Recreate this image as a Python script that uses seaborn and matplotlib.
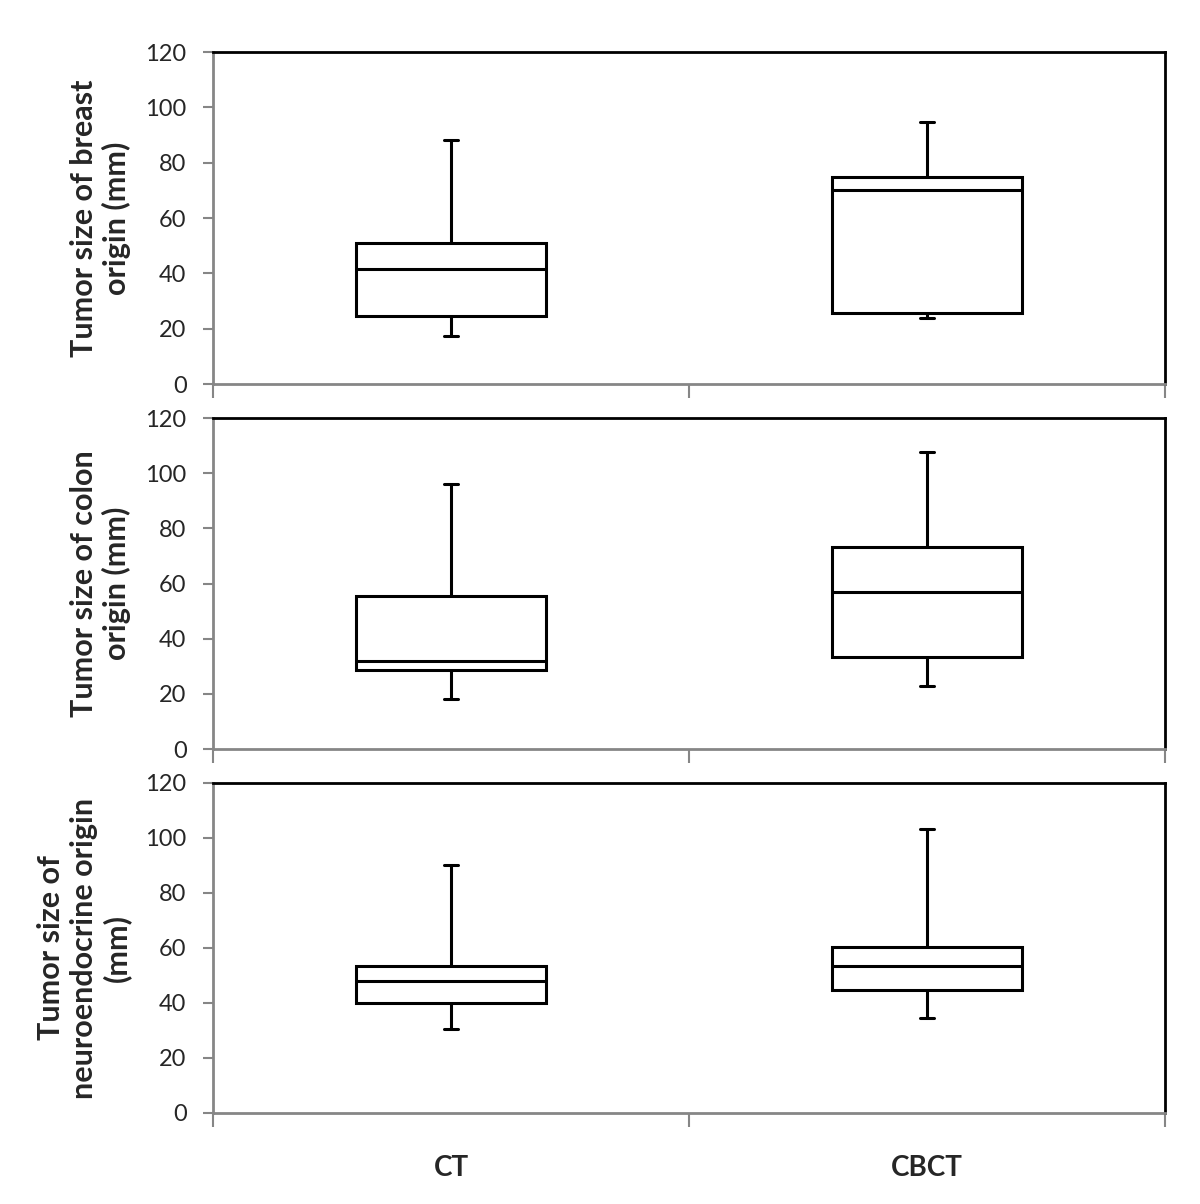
import numpy as np
import pandas as pd
import matplotlib.pyplot as plt
import seaborn as sns

# five-number summaries: min, Q1, median, Q3, max
groups = ["CT", "CBCT"]
breast_ct = [17.3, 24.6, 41.5, 51.0, 88.2]
breast_cbct = [23.9, 25.7, 70.1, 74.8, 94.7]
colon_ct = [18.1, 28.6, 31.9, 55.5, 96.1]
colon_cbct = [22.8, 33.4, 56.9, 73.2, 107.7]
neuro_ct = [30.5, 40.0, 48.0, 53.5, 90.2]
neuro_cbct = [34.5, 44.7, 53.5, 60.4, 103.3]

ylabels = [
    "Tumor size of breast\norigin (mm)",
    "Tumor size of colon\norigin (mm)",
    "Tumor size of\nneuroendocrine origin\n(mm)",
]
yticks = [0, 20, 40, 60, 80, 100, 120]

panels = [(breast_ct, breast_cbct), (colon_ct, colon_cbct), (neuro_ct, neuro_cbct)]

sns.set_style("white")
plt.rcParams["font.family"] = ["Lato", "DejaVu Sans"]

fig = plt.figure(figsize=(12, 12.04), dpi=100)
boxes = [
    [0.1775, 0.681, 0.7933, 0.2757],
    [0.1775, 0.3779, 0.7933, 0.2749],
    [0.1775, 0.0756, 0.7933, 0.2741],
]
gray = "#868686"

for i, ((ct, cbct), label) in enumerate(zip(panels, ylabels)):
    ax = fig.add_axes(boxes[i])
    # with five points, linear quartiles land exactly on the summary values
    df = pd.DataFrame({
        "group": [groups[0]] * len(ct) + [groups[1]] * len(cbct),
        "size": ct + cbct,
    })
    sns.boxplot(data=df, x="group", y="size", order=groups, ax=ax,
                whis=(0, 100), width=0.40, color="white", linecolor="black",
                linewidth=2.2, capwidths=0.03, showfliers=False)
    ax.set_ylim(0, 120)
    ax.set_xlim(-0.5, 1.5)
    ax.set_yticks(yticks)
    ax.tick_params(axis="y", labelsize=17, length=7, width=1.5, color=gray,
                   direction="out", left=True, pad=12)
    # category boundary ticks, like the spreadsheet original
    ax.set_xticks([-0.5, 0.5, 1.5], minor=True)
    ax.tick_params(axis="x", which="minor", length=10, width=1.5, color=gray,
                   direction="out", bottom=True)
    if i == 2:
        ax.set_xticks([0, 1])
        ax.set_xticklabels(groups, fontsize=20, fontweight="bold")
        ax.tick_params(axis="x", which="major", length=0, pad=30)
    else:
        ax.set_xticks([])
    ax.set_xlabel("")
    ax.set_ylabel(label, fontsize=22, fontweight="bold", labelpad=10,
                  linespacing=1.2)
    for side in ["left", "bottom"]:
        ax.spines[side].set_color(gray)
        ax.spines[side].set_linewidth(2)
    for side in ["top", "right"]:
        ax.spines[side].set_color("black")
        ax.spines[side].set_linewidth(2)

plt.savefig("out.png", dpi=100)
